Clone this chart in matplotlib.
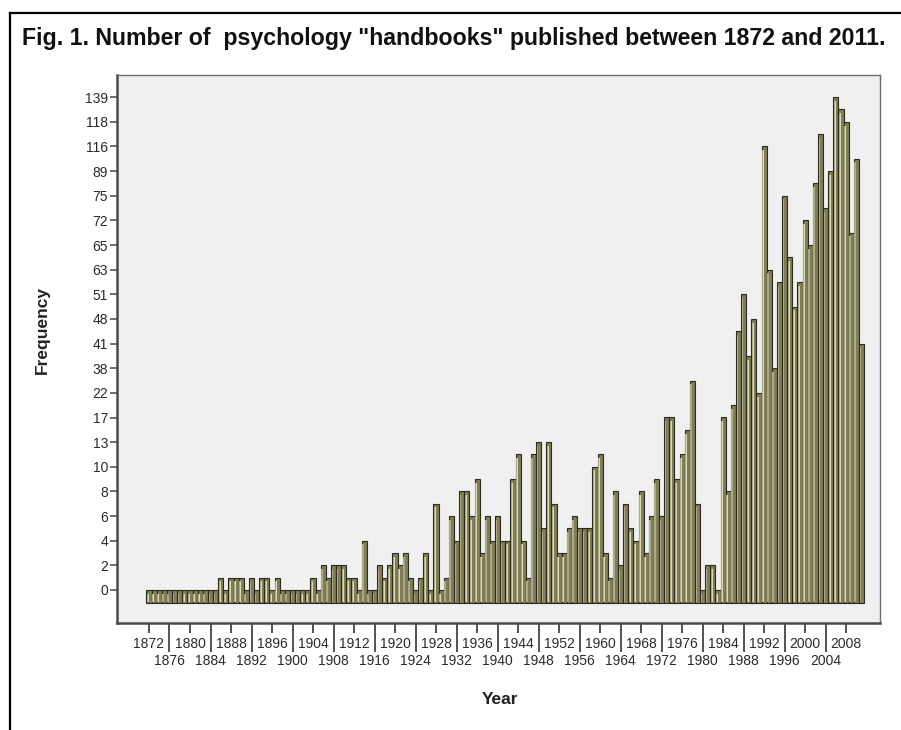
import numpy as np
import matplotlib
matplotlib.use('Agg')
import matplotlib.pyplot as plt
from matplotlib.lines import Line2D

plt.rcParams['font.family'] = ['Liberation Sans', 'DejaVu Sans']

# Years on the x axis (one bar per year)
years = list(range(1872, 2012))

# Frequency categories as SPSS drew them (ordinal axis, only every other one labelled)
freq_labels = ['0', '2', '4', '6', '8', '10', '13', '17', '22', '38', '41',
               '48', '51', '63', '65', '72', '75', '89', '116', '118', '139']

# Bar height, as position on the category axis (0 = "0", 40 = "139")
freq_cat = [0, 0, 0, 0, 0, 0, 0, 0, 0, 0, 0, 0, 0, 0,      # 1872-1885
            1, 0, 1, 1, 1, 0, 1, 0, 1, 1, 0, 1,            # 1886-1897
            0, 0, 0, 0, 0, 0, 1, 0, 2, 1,                  # 1898-1907
            2, 2, 2, 1, 1, 0, 4, 0, 0, 2,                  # 1908-1917
            1, 2, 3, 2, 3, 1, 0, 1, 3, 0,                  # 1918-1927
            7, 0, 1, 6, 4, 8, 8, 6, 9, 3,                  # 1928-1937
            6, 4, 6, 4, 4, 9, 11, 4, 1, 11,                # 1938-1947
            12, 5, 12, 7, 3, 3, 5, 6, 5, 5,                # 1948-1957
            5, 10, 11, 3, 1, 8, 2, 7, 5, 4,                # 1958-1967
            8, 3, 6, 9, 6, 14, 14, 9, 11, 13,              # 1968-1977
            17, 7, 0, 2, 2, 0, 14, 8, 15, 21,              # 1978-1987
            24, 19, 22, 16, 36, 26, 18, 25, 32, 27,        # 1988-1997
            23, 25, 30, 28, 33, 37, 31, 34, 40, 39,        # 1998-2007
            38, 29, 35, 20]                                # 2008-2011

W, H = 901, 730
fig = plt.figure(figsize=(W / 100, H / 100), dpi=100)
fig.patch.set_facecolor('white')

# outer border of the figure
fig.add_artist(Line2D([10 / W, 1.0], [1 - 13 / H, 1 - 13 / H], color='black', lw=1.6))
fig.add_artist(Line2D([10 / W, 10 / W], [0, 1 - 13 / H], color='black', lw=1.6))

fig.text(22 / W, 1 - 38 / H,
         'Fig. 1. Number of  psychology "handbooks" published between 1872 and 2011.',
         fontsize=16.7, fontweight='bold', va='center', ha='left', color='#111111')

ax = fig.add_axes([117 / W, 1 - 623 / H, (880 - 117) / W, (623 - 75) / H])
ax.set_facecolor('#f0f0f0')

x = np.arange(len(years))
top = np.array(freq_cat, dtype=float)
base = -1.05

# bar body
ax.bar(x, top - base, bottom=base, width=1.0, color='#807d58',
       edgecolor='#2b2b20', linewidth=0.8, zorder=2)
# lighter left half, bright stripe -> the rounded look of the SPSS bars
ax.bar(x - 0.22, top - base - 0.35, bottom=base + 0.05, width=0.34,
       color='#acaa86', linewidth=0, zorder=3)
ax.bar(x - 0.1, top - base - 0.35, bottom=base + 0.05, width=0.1,
       color='#dcdab0', linewidth=0, zorder=4)

ax.set_xlim(-6.24, 142.6)
ax.set_ylim(-2.68, 41.8)

ax.set_yticks(np.arange(0, 41, 2))
ax.set_yticklabels(freq_labels)
ax.tick_params(axis='y', length=5, width=1.2, color='#555555', labelsize=10,
               pad=1.5, labelcolor='#2a2a2a')

# staggered year labels: every 8 years on the upper row, the ones between below
up = [i for i in range(0, len(years), 8)]
low = [i for i in range(4, len(years), 8)]
ax.set_xticks(up)
ax.set_xticklabels([str(years[i]) for i in up])
ax.set_xticks(low, minor=True)
ax.set_xticklabels([str(years[i]) for i in low], minor=True)
ax.tick_params(axis='x', which='major', length=7, width=1.3, color='#444444',
               labelsize=10, pad=3, labelcolor='#2a2a2a')
ax.tick_params(axis='x', which='minor', length=21, width=1.3, color='#444444',
               labelsize=10, pad=1, labelcolor='#2a2a2a')

for s in ['left', 'bottom']:
    ax.spines[s].set_color('#4a4a4a')
    ax.spines[s].set_linewidth(1.8)
for s in ['top', 'right']:
    ax.spines[s].set_color('#6a6a6a')
    ax.spines[s].set_linewidth(1.0)

fig.text(42 / W, 1 - 330 / H, 'Frequency', rotation=90, fontsize=12.5,
         fontweight='bold', ha='center', va='center', color='#222222')
fig.text(500 / W, 1 - 700 / H, 'Year', fontsize=12.5, fontweight='bold',
         ha='center', va='center', color='#222222')

fig.savefig('out.png', dpi=100)
